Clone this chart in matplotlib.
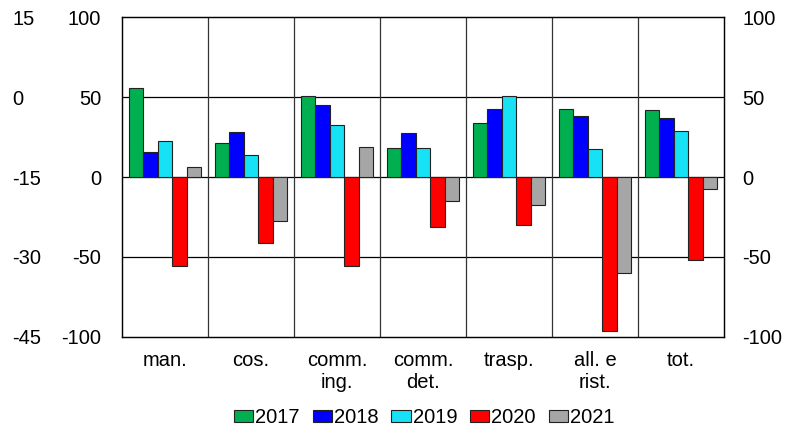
import numpy as np
import matplotlib
matplotlib.use("Agg")
import matplotlib.pyplot as plt

plt.rcParams['font.family'] = ['Liberation Sans', 'DejaVu Sans']
plt.rcParams['axes.unicode_minus'] = False

categories = ['man.', 'cos.', 'comm.\ning.', 'comm.\ndet.', 'trasp.', 'all. e\nrist.', 'tot.']
years = ['2017', '2018', '2019', '2020', '2021']
v2017 = [55.6, 21.1, 50.6, 18.2, 33.5, 42.7, 41.6]
v2018 = [15.7, 28.0, 45.0, 27.2, 42.7, 38.3, 37.0]
v2019 = [22.6, 13.6, 32.8, 18.2, 50.4, 17.6, 28.9]
v2020 = [-55.4, -41.4, -55.4, -31.4, -30.3, -96.0, -51.7]
v2021 = [6.3, -27.4, 18.6, -15.1, -17.4, -60.0, -7.3]
series = [v2017, v2018, v2019, v2020, v2021]
colors = ['#00B050', '#0000FF', '#17E1F5', '#FF0000', '#A6A6A6']

fs = 14.5
fig = plt.figure(figsize=(7.9, 4.26), dpi=100)
ax = fig.add_axes([0.1544, 0.209, 0.762, 0.751])

x = np.arange(len(categories))
w = 0.168
for i, (vals, c) in enumerate(zip(series, colors)):
    ax.bar(x + (i - 2) * w, vals, w, color=c, edgecolor='#222222', linewidth=0.8,
           label=years[i], zorder=3)

ax.set_xlim(-0.5, len(categories) - 0.5)
ax.set_ylim(-100, 100)
ax.set_yticks([-100, -50, 0, 50, 100])
ax.set_xticks(x)
ax.set_xticklabels(categories, fontsize=fs, linespacing=1.2)
ax.tick_params(axis='x', length=0, pad=10)
ax.tick_params(axis='y', length=0, pad=15, labelsize=fs)

for yv in [-50, 0, 50]:
    ax.axhline(yv, color='black', linewidth=0.9, zorder=2)
for xv in np.arange(0.5, len(categories) - 0.5, 1):
    ax.axvline(xv, color='#333333', linewidth=0.9, zorder=2)
for s in ax.spines.values():
    s.set_linewidth(1.0)
    s.set_color('#222222')

# right axis with same scale
axr = ax.twinx()
axr.set_ylim(-100, 100)
axr.set_yticks([-100, -50, 0, 50, 100])
axr.tick_params(axis='y', length=0, pad=13, labelsize=fs)
for t in axr.get_yticklabels():
    t.set_ha('left')

# outer left axis
sec = ax.secondary_yaxis('left', functions=(lambda y: 0.3 * y - 15, lambda s: (s + 15) / 0.3))
sec.set_yticks([15, 0, -15, -30, -45])
sec.tick_params(axis='y', length=0, pad=79, labelsize=fs)
sec.spines['left'].set_visible(False)
for t in sec.get_yticklabels():
    t.set_ha('left')

handles, labels = ax.get_legend_handles_labels()
fig.legend(handles, labels, loc='center', bbox_to_anchor=(0.537, 0.02), ncol=5,
           frameon=False, fontsize=fs, handlelength=0.95, handleheight=0.5,
           handletextpad=0.1, columnspacing=0.65, borderaxespad=0)

fig.savefig('out.png', dpi=100)
